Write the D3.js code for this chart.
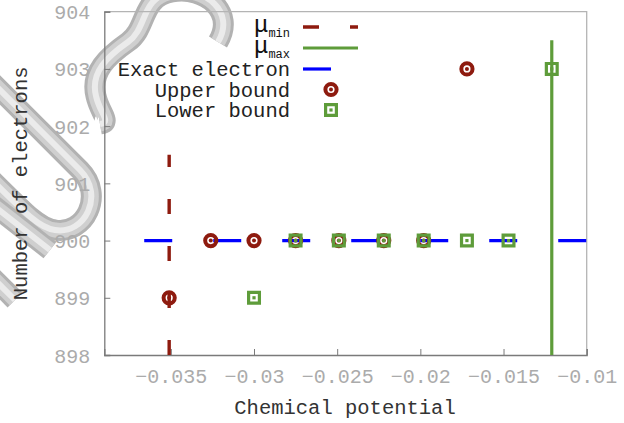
<!DOCTYPE html>
<html>
<head>
<meta charset="utf-8">
<script src="https://cdn.jsdelivr.net/npm/d3@7"></script>
<style>
body { margin: 0; background: #fff; }
svg text { font-family: "Liberation Mono", "DejaVu Sans Mono", monospace; }
</style>
</head>
<body>
<script>
// data
var xTicks = [-0.035, -0.03, -0.025, -0.02, -0.015, -0.01];
var xTickLabels = ['\u22120.035', '\u22120.03', '\u22120.025', '\u22120.02', '\u22120.015', '\u22120.01'];
var yTicks = [898, 899, 900, 901, 902, 903, 904];

var muMinX = -0.0351, muMinN = [898, 901.5];
var muMaxX = -0.0121, muMaxN = [898, 903.5];
var exactX = [-0.0366, -0.01], exactN = [900, 900];
var upperX = [-0.0351, -0.0326, -0.030, -0.0275, -0.0249, -0.0222, -0.0198, -0.0172];
var upperN = [899, 900, 900, 900, 900, 900, 900, 903];
var lowerX = [-0.030, -0.0275, -0.0249, -0.0222, -0.0198, -0.0172, -0.0147, -0.0121];
var lowerN = [899, 900, 900, 900, 900, 900, 900, 903];

var legendNames = ['Exact electron', 'Upper bound', 'Lower bound'];

var red = '#8e1b0f', green = '#5e9c3a', blue = '#0000ff';

var W = 624, H = 423;
var plot = {left: 104.3, right: 586.7, top: 11.7, bottom: 355};

var svg = d3.select('body').append('svg').attr('width', W).attr('height', H);

var x = d3.scaleLinear().domain([-0.039, -0.01]).range([plot.left, plot.right]);
var y = d3.scaleLinear().domain([898, 904]).range([plot.bottom, plot.top]);

// grey tube watermark in the upper left corner, drawn first so texts stay readable
var mark = svg.append('g').attr('class', 'watermark').style('fill', 'none')
    .style('stroke-linecap', 'butt').style('stroke-linejoin', 'round');
var tubes = [
    'M218,42 C236,12 205,-14 172,-8 C140,-2 148,28 128,42 C108,56 90,72 96,96 C100,114 112,122 100,124',
    'M-15,75 L80,170 C105,195 85,235 55,230 C40,228 30,218 -15,173',
    'M-20,195 L50,250',
    'M-20,265 L15,300'
];
tubes.forEach(function(d){
    mark.append('path').attr('d', d).style('stroke', '#b2b2b2').style('stroke-width', 21);
    mark.append('path').attr('d', d).style('stroke', '#cfcfcf').style('stroke-width', 15);
    mark.append('path').attr('d', d).style('stroke', '#ebebeb').style('stroke-width', 6);
});

// frame: top/right lighter
svg.append('path')
    .attr('d', 'M' + plot.left + ',' + plot.top + 'H' + plot.right + 'V' + plot.bottom)
    .style('fill', 'none').style('stroke', '#b4b4b4').style('stroke-width', 1.3);

// axes (gnuplot style: ticks inside)
var xAxis = d3.axisBottom(x).tickValues(xTicks).tickSize(-6).tickPadding(14)
    .tickFormat(function(d, i){ return xTickLabels[i]; });
var gx = svg.append('g').attr('transform', 'translate(0,' + plot.bottom + ')').call(xAxis);
var yAxis = d3.axisLeft(y).tickValues(yTicks).tickSize(-6).tickPadding(14)
    .tickFormat(d3.format('d'));
var gy = svg.append('g').attr('transform', 'translate(' + plot.left + ',0)').call(yAxis);

[gx, gy].forEach(function(g){
    g.select('.domain').style('stroke', '#7a7a7a').style('stroke-width', 1.3);
    g.selectAll('.tick line').style('stroke', '#7a7a7a').style('stroke-width', 1);
    g.selectAll('.tick text').style('fill', '#ababab').style('font-size', '20px')
        .style('font-family', '"Liberation Mono", monospace');
});
gx.selectAll('.tick text').attr('y', 14).attr('dy', '0.71em');
gy.selectAll('.tick text').attr('x', -14).attr('dy', '0.35em');

// axis titles
svg.append('text').attr('x', 345).attr('y', 414).attr('text-anchor', 'middle')
    .style('font-size', '20.5px').style('fill', '#333').text('Chemical potential');
svg.append('text').attr('transform', 'translate(27,' + ((plot.top + plot.bottom) / 2) + ') rotate(-90)')
    .attr('text-anchor', 'middle').style('font-size', '20.5px').style('fill', '#333')
    .text('Number of electrons');

var line = d3.line().x(function(d){ return x(d[0]); }).y(function(d){ return y(d[1]); });

// exact electron count, long dashes
svg.append('path')
    .attr('d', line(exactX.map(function(v, i){ return [v, exactN[i]]; })))
    .style('fill', 'none').style('stroke', blue).style('stroke-width', 3.2)
    .style('stroke-dasharray', '28,41');

// mu min (dashed) and mu max (solid)
svg.append('path')
    .attr('d', line(muMinN.map(function(n){ return [muMinX, n]; })))
    .style('fill', 'none').style('stroke', red).style('stroke-width', 3.4)
    .style('stroke-dasharray', '15,32');
svg.append('path')
    .attr('d', line(muMaxN.map(function(n){ return [muMaxX, n]; })))
    .style('fill', 'none').style('stroke', green).style('stroke-width', 3.2);

// marker shapes (holes left transparent)
function circleMark(g){
    g.append('path')
        .attr('d', d3.arc()({innerRadius: 3.6, outerRadius: 7.6, startAngle: 0, endAngle: 2 * Math.PI}))
        .style('fill', red);
    g.append('circle').attr('r', 2).style('fill', red);
}
function squareMark(g){
    g.append('path')
        .attr('d', 'M-7,-7H7V7H-7Z M-3.8,-3.8V3.8H3.8V-3.8Z')
        .style('fill', green).style('fill-rule', 'evenodd');
    g.append('rect').attr('x', -1.6).attr('y', -1.6).attr('width', 3.2).attr('height', 3.2).style('fill', green);
}

svg.append('g').selectAll('g').data(upperX).enter().append('g')
    .attr('transform', function(d, i){ return 'translate(' + x(d) + ',' + y(upperN[i]) + ')'; })
    .each(function(){ circleMark(d3.select(this)); });
svg.append('g').selectAll('g').data(lowerX).enter().append('g')
    .attr('transform', function(d, i){ return 'translate(' + x(d) + ',' + y(lowerN[i]) + ')'; })
    .each(function(){ squareMark(d3.select(this)); });

// legend
var legend = svg.append('g').attr('class', 'legend');
var lx0 = 303, lx1 = 358, textX = 290, rowY = [27, 48, 69, 89.5, 110];

function muLabel(yy, sub){
    var t = legend.append('text').attr('x', textX).attr('y', yy + 5).attr('text-anchor', 'end')
        .style('fill', '#111');
    t.append('tspan').style('font-size', '24px').text('\u03bc');
    t.append('tspan').attr('dy', 5).style('font-size', '12px').text(sub);
}
muLabel(rowY[0], 'min');
muLabel(rowY[1], 'max');
legend.append('line').attr('x1', lx0).attr('x2', lx1).attr('y1', rowY[0]).attr('y2', rowY[0])
    .style('stroke', red).style('stroke-width', 3.4).style('stroke-dasharray', '16,31');
legend.append('line').attr('x1', lx0).attr('x2', lx1).attr('y1', rowY[1]).attr('y2', rowY[1])
    .style('stroke', green).style('stroke-width', 3.2);

legendNames.forEach(function(name, i){
    legend.append('text').attr('x', textX).attr('y', rowY[i + 2] + 7).attr('text-anchor', 'end')
        .style('font-size', '20.5px').style('fill', '#222').text(name);
});
legend.append('line').attr('x1', lx0).attr('x2', lx1).attr('y1', rowY[2]).attr('y2', rowY[2])
    .style('stroke', blue).style('stroke-width', 3.2).style('stroke-dasharray', '28,41');
circleMark(legend.append('g').attr('transform', 'translate(331,' + rowY[3] + ')'));
squareMark(legend.append('g').attr('transform', 'translate(331,' + rowY[4] + ')'));
</script>
</body>
</html>
